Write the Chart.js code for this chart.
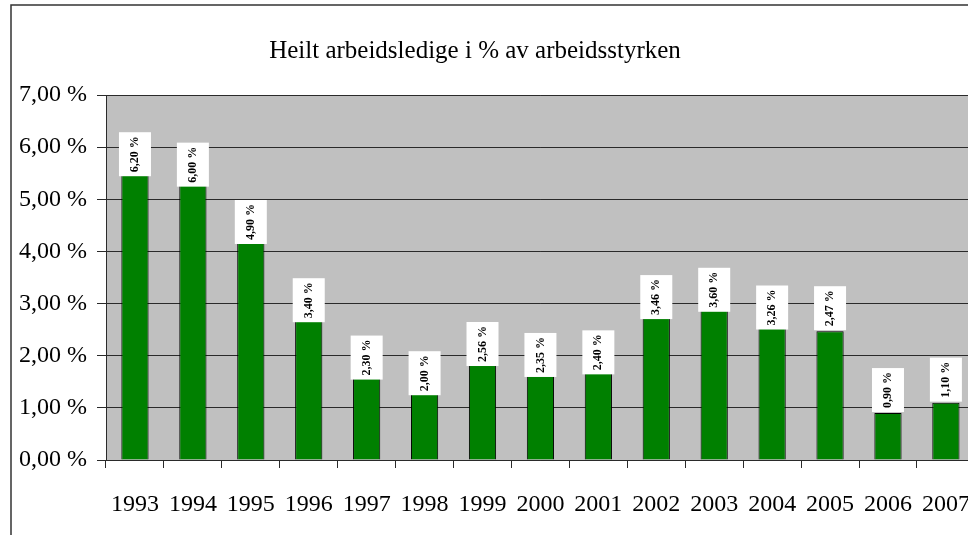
<!DOCTYPE html>
<html>
<head>
<meta charset="utf-8">
<script src="https://cdn.jsdelivr.net/npm/chart.js@4.4.1/dist/chart.umd.min.js"></script>
<style>
  html, body { margin: 0; padding: 0; background: #fff; overflow: hidden; }
  #wrap { position: relative; width: 992px; height: 535px; }
</style>
</head>
<body>
<div id="wrap"><canvas id="myChart"></canvas></div>
<script>
const years = ['1993', '1994', '1995', '1996', '1997', '1998', '1999', '2000',
  '2001', '2002', '2003', '2004', '2005', '2006', '2007'];
const rates = [6.20, 6.00, 4.90, 3.40, 2.30, 2.00, 2.56, 2.35, 2.40, 3.46, 3.60, 3.26, 2.47, 0.90, 1.10];
const yMin = 0, yMax = 7, yStep = 1;
const titleText = 'Heilt arbeidsledige i % av arbeidsstyrken';

const pct = v => v.toFixed(2).replace('.', ',') + ' %';
const serif = '"Liberation Serif", "Times New Roman", serif';
const ink = '#2a2a2a';

// grey plot area + outer chart frame
const frame = {
  id: 'frame',
  beforeDraw(chart) {
    const {ctx, chartArea: a} = chart;
    ctx.save();
    ctx.fillStyle = '#c0c0c0';
    ctx.fillRect(a.left, a.top, a.right - a.left, a.bottom - a.top);
    ctx.strokeStyle = '#333';
    ctx.lineWidth = 1.5;
    ctx.strokeRect(11, 5, 2000, 2000);
    ctx.restore();
  },
  afterDraw(chart) {
    const ctx = chart.ctx;
    ctx.save();
    ctx.fillStyle = '#000';
    ctx.font = '25px ' + serif;
    ctx.textAlign = 'center';
    ctx.textBaseline = 'alphabetic';
    ctx.fillText(titleText, 475, 58);
    ctx.restore();
  }
};

// white boxes with rotated value text, like the Excel data labels
const boxLabels = {
  id: 'boxLabels',
  afterDatasetsDraw(chart, args, opts) {
    const ctx = chart.ctx;
    const meta = chart.getDatasetMeta(0);
    ctx.save();
    meta.data.forEach((bar, i) => {
      const w = 32, h = 44;
      const above = opts.above.includes(chart.data.labels[i]);
      const top = above ? bar.y - h - 1 : bar.y - 4.5;
      ctx.fillStyle = '#fff';
      ctx.fillRect(bar.x - w / 2, top, w, h);
      ctx.translate(bar.x, top + h / 2);
      ctx.rotate(-Math.PI / 2);
      ctx.fillStyle = '#000';
      ctx.font = 'bold 12px ' + serif;
      ctx.textAlign = 'center';
      ctx.textBaseline = 'middle';
      ctx.fillText(pct(chart.data.datasets[0].data[i]), 0, 0);
      ctx.setTransform(1, 0, 0, 1, 0, 0);
    });
    ctx.restore();
  }
};

new Chart(document.getElementById('myChart'), {
  type: 'bar',
  plugins: [frame, boxLabels],
  data: {
    labels: years,
    datasets: [{
      data: rates,
      backgroundColor: '#008000',
      borderColor: '#000',
      borderWidth: 1,
      barPercentage: 0.47,
      categoryPercentage: 1
    }]
  },
  options: {
    responsive: true,
    maintainAspectRatio: false,
    animation: false,
    layout: { padding: { top: 95, right: 3, left: 0, bottom: 0 } },
    plugins: {
      legend: { display: false },
      title: { display: false },
      tooltip: { enabled: false },
      boxLabels: { above: ['2005', '2006', '2007'] }
    },
    scales: {
      x: {
        afterFit(s) { s.height = 75; },
        grid: { offset: true, drawOnChartArea: false, color: ink, tickLength: 8 },
        border: { color: ink, width: 1 },
        ticks: { color: '#000', font: { family: serif, size: 24 }, padding: 22, maxRotation: 0 }
      },
      y: {
        min: yMin, max: yMax,
        afterFit(s) { s.width = 106; },
        grid: { color: ink, tickLength: 9 },
        border: { color: ink, width: 1 },
        ticks: {
          stepSize: yStep,
          color: '#000',
          padding: 10,
          font: { family: serif, size: 24 },
          callback: v => pct(v)
        }
      }
    }
  }
});
</script>
</body>
</html>
